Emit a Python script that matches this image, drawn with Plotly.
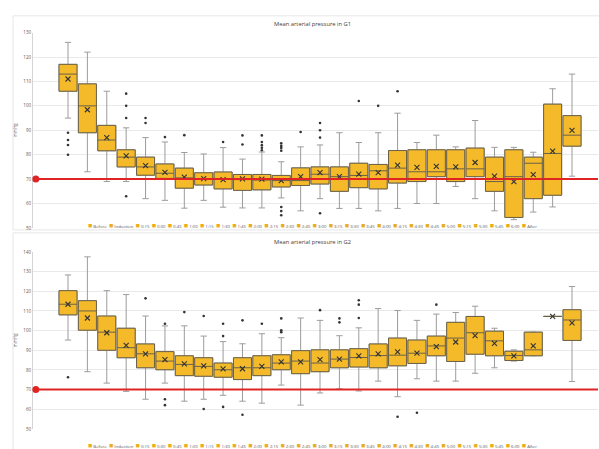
import plotly.graph_objects as go

# ---------------- data ----------------
CATEGORIES = ["Before", "Induction", "0:15", "0:30", "0:45", "1:00", "1:15", "1:30",
              "1:45", "2:00", "2:15", "2:30", "2:45", "3:00", "3:15", "3:30", "3:45",
              "4:00", "4:15", "4:30", "4:45", "5:00", "5:15", "5:30", "5:45", "6:00", "After"]

G1_LOW  = [95, 73, 69, 69, 62, 61.3, 58.1, 61.3, 58.5, 58.2, 58.2, 62.3, 57, 62, 58, 58, 57,
           58, 60, 60, 67, 62, 57, 53.4, 56.5, 58.6, 71.2]
G1_Q1   = [106, 89, 81.6, 75, 71.6, 70.3, 66.3, 67.6, 66.0, 65.4, 65.6, 66.8, 67.4, 68, 65, 66.5, 66,
           68.4, 69, 71, 69, 71, 65, 54.3, 62, 63.4, 83.5]
G1_MED  = [113, 100, 86, 79, 75, 72.4, 70.5, 70, 70.1, 69.8, 69.6, 69.4, 69.4, 72, 71, 71.5, 73.4,
           74.5, 73, 73, 74.2, 74.2, 69, 71, 76.5, 80.5, 88]
G1_Q3   = [117, 109, 92, 82, 79, 76.2, 74.5, 72.6, 72.9, 71.9, 71.9, 71.5, 74.6, 75, 75, 76.5, 76,
           81.7, 82, 82, 82, 82.7, 79, 82, 79, 100.7, 96]
G1_HIGH = [126, 122, 106, 91, 87, 85.2, 80.9, 80.3, 82.9, 78.2, 81.1, 77.1, 83.2, 84, 89, 85, 89,
           97, 85, 88, 83.2, 94, 83, 83, 81, 107, 113]
G1_MEAN = [111, 98.4, 87, 79.5, 75.5, 72.8, 70.8, 70.2, 69.8, 70.1, 70.0, 69.4, 71, 72.7, 71, 72, 72.7,
           75.7, 74.8, 75.2, 75, 76.8, 71.2, 69, 71.8, 81.5, 90]
G1_OUTLIERS = [[89, 86, 84, 80], [], [], [105, 100, 95, 63], [95, 93], [87.2], [88], [], [85.2],
               [87.9, 84.2], [87.9, 85.2, 83.9, 82.8, 81.8],
               [84.7, 83.6, 82.7, 81.6, 58.6, 56.9, 55.2], [89.3], [93, 90, 87, 56], [], [102], [100],
               [106], [], [], [], [], [], [], [], [], []]

G2_LOW  = [95.2, 79.1, 73.3, 69.1, 65.1, 73.3, 64.1, 65.1, 67.1, 64.1, 63.1, 72.3, 62.1, 68.3, 70.4,
           69.3, 74.3, 66.4, 75.5, 74.3, 74.3, 78.3, 81.1, 84.5, 87.2, 107.2, 74.1]
G2_Q1   = [108, 100.2, 90, 86.2, 81.1, 80.1, 77.1, 76.8, 76.3, 75.1, 77.1, 80.1, 78.1, 79.1, 81.1,
           81.5, 81.1, 82.1, 83.3, 87.2, 84.3, 88, 87.2, 84.8, 87.2, 107.2, 95]
G2_MED  = [113.4, 110, 99.2, 91.3, 88.2, 84.5, 82.8, 81.8, 80.1, 81.1, 81.1, 83.5, 84.5, 83.5, 85.5,
           86.3, 87.3, 87.5, 88.5, 92.2, 96.2, 98.9, 94.8, 87.3, 90.2, 107.2, 105.4]
G2_Q3   = [120.3, 115.2, 107.4, 101.2, 93.2, 89.3, 87.2, 86.2, 83.5, 86.2, 87.2, 87.7, 89.8, 90.2, 90.2,
           90.8, 93.2, 96.2, 95.2, 97.2, 104.2, 107.2, 99.7, 89.5, 99.2, 107.2, 110.6]
G2_HIGH = [128.3, 137.5, 120.3, 118.3, 107.4, 102.4, 102.4, 97.2, 94.4, 93.3, 98.4, 96.4, 106.4, 105.2,
           97.4, 101.4, 111.2, 110.2, 105.2, 108.4, 109.2, 112.4, 101.2, 90.2, 99.2, 107.2, 122.4]
G2_MEAN = [113.4, 106.4, 98.9, 92.5, 88.2, 85.2, 83.1, 82.1, 80.5, 80.6, 81.8, 84.1, 84.1, 85.2, 85.5,
           87.2, 88.2, 89.2, 88.5, 91.8, 94.2, 97.4, 93.5, 87.2, 92.2, 107.2, 103.9]
G2_OUTLIERS = [[76.3], [], [], [], [116.4], [103.5, 65.1, 62.1], [109.4], [107.4, 60.1],
               [103.5, 97.2, 61.2], [105.2, 57.2], [103.5], [106.2, 100.2, 99.2], [], [110.4],
               [106.2, 104.2], [115.4, 113.2, 106.4], [], [56.2], [58.2], [113.2], [], [], [], [],
               [], [], []]

THRESHOLD = 70
G1_TICKS = [50, 60, 70, 80, 90, 100, 110, 120, 130]
G2_TICKS = [50, 60, 70, 80, 90, 100, 110, 120, 130, 140]
TITLES = ["Mean arterial pressure in G1", "Mean arterial pressure in G2"]
Y_TITLE = "mmHg"

# ---------------- style / layout ----------------
W, H = 599, 449
FILL = "#F4BA2A"
OUTLINE = "#6B6148"
WHISKER = "#9C9C9C"
MARK = "#333333"
RED = "#E02424"
GRID = "#E3E3E3"
FONT = "Open Sans"
BOXW = 0.93
XRANGE = [-1.806, 27.34]


def px(x):
    return x / W


def py(y):
    return 1 - y / H


fig = go.Figure()


def add_panel(xa, ya, low, q1, med, q3, high, mean, outliers):
    for i, c in enumerate(CATEGORIES):
        common = dict(x=[c], q1=[q1[i]], median=[med[i]], q3=[q3[i]], orientation="v",
                      width=BOXW, fillcolor=FILL, boxpoints=False, showlegend=False,
                      xaxis=xa, yaxis=ya, name=c, hoverinfo="skip")
        fig.add_trace(go.Box(lowerfence=[low[i]], upperfence=[high[i]], whiskerwidth=0.35,
                             line=dict(color=WHISKER, width=1), **common))
        fig.add_trace(go.Box(lowerfence=[q1[i]], upperfence=[q3[i]], whiskerwidth=0,
                             line=dict(color=OUTLINE, width=1), **common))
    ox, oy = [], []
    for c, vals in zip(CATEGORIES, outliers):
        for v in vals:
            ox.append(c)
            oy.append(v)
    fig.add_trace(go.Scatter(x=ox, y=oy, mode="markers", xaxis=xa, yaxis=ya, showlegend=False,
                             marker=dict(symbol="circle", size=2.6, color=MARK), hoverinfo="skip"))
    fig.add_trace(go.Scatter(x=CATEGORIES, y=mean, mode="markers", xaxis=xa, yaxis=ya,
                             showlegend=False, hoverinfo="skip",
                             marker=dict(symbol="x-thin", size=5, line=dict(width=1.1, color=MARK))))


add_panel("x", "y", G1_LOW, G1_Q1, G1_MED, G1_Q3, G1_HIGH, G1_MEAN, G1_OUTLIERS)
add_panel("x2", "y2", G2_LOW, G2_Q1, G2_MED, G2_Q3, G2_HIGH, G2_MEAN, G2_OUTLIERS)

xcommon = dict(type="category", categoryorder="array", categoryarray=CATEGORIES,
               range=XRANGE, domain=[px(33), px(598)], showticklabels=False, showgrid=False,
               zeroline=False, showline=False, ticks="", fixedrange=True)
ycommon = dict(showgrid=True, gridcolor=GRID, gridwidth=0.8, zeroline=False,
               showline=True, linecolor="#D4D4D4", linewidth=1, ticks="", fixedrange=True,
               tickfont=dict(size=4.5, color="#595959", family=FONT),
               title=dict(text=Y_TITLE, font=dict(size=4.5, color="#595959", family=FONT), standoff=5))

fig.update_layout(
    width=W, height=H, margin=dict(l=0, r=0, t=0, b=0),
    paper_bgcolor="white", plot_bgcolor="white", boxmode="overlay", showlegend=False,
    xaxis=dict(anchor="y", **xcommon),
    xaxis2=dict(anchor="y2", **xcommon),
    yaxis=dict(anchor="x", domain=[py(228), py(30)], range=[50, 130], tickvals=G1_TICKS, **ycommon),
    yaxis2=dict(anchor="x2", domain=[py(431.7), py(252.3)], range=[50, 140], tickvals=G2_TICKS, **ycommon),
)

shapes = []
# panel frames
shapes.append(dict(type="rect", xref="paper", yref="paper", x0=px(13), x1=1.01, y0=py(230), y1=py(13),
                   line=dict(color="#E6E6E6", width=1), layer="below"))
shapes.append(dict(type="rect", xref="paper", yref="paper", x0=px(13), x1=1.01, y0=-0.05, y1=py(233),
                   line=dict(color="#E6E6E6", width=1), layer="below"))
for xr, yr in (("x domain", "y"), ("x2 domain", "y2")):
    shapes.append(dict(type="line", xref=xr, yref=yr, x0=0.005, x1=1, y0=THRESHOLD, y1=THRESHOLD,
                       line=dict(color=RED, width=2), layer="above"))
    shapes.append(dict(type="circle", xref=xr, yref=yr, xsizemode="pixel", ysizemode="pixel",
                       xanchor=0.005, yanchor=THRESHOLD, x0=-3.5, x1=3.5, y0=-3.5, y1=3.5,
                       fillcolor=RED, line=dict(color=RED, width=0), layer="above"))
fig.update_layout(shapes=shapes)

# titles
annotations = []
for t, ypix in zip(TITLES, (21, 242)):
    annotations.append(dict(text=t, xref="paper", yref="paper", x=px(312), y=py(ypix),
                            xanchor="center", yanchor="middle", showarrow=False,
                            font=dict(size=5.8, color="#404040", family=FONT)))

# legends (one row of swatches under each panel)
legend_text = "&nbsp;&nbsp;".join(
    '<span style="color:%s;font-size:7px">■</span>&nbsp;%s' % ("#E9AE1A", c) for c in CATEGORIES)
for ypix in (226, 448):
    annotations.append(dict(text=legend_text, xref="paper", yref="paper", x=px(312), y=py(ypix),
                            xanchor="center", yanchor="middle", showarrow=False,
                            font=dict(size=4.3, color="#595959", family=FONT)))
fig.update_layout(annotations=annotations)

# remove the browser's default 8px page margin so the 599x449 figure fills the window
fig.write_html("out.html", config={"displayModeBar": False, "staticPlot": True},
               post_script="document.body.style.margin='0';")
